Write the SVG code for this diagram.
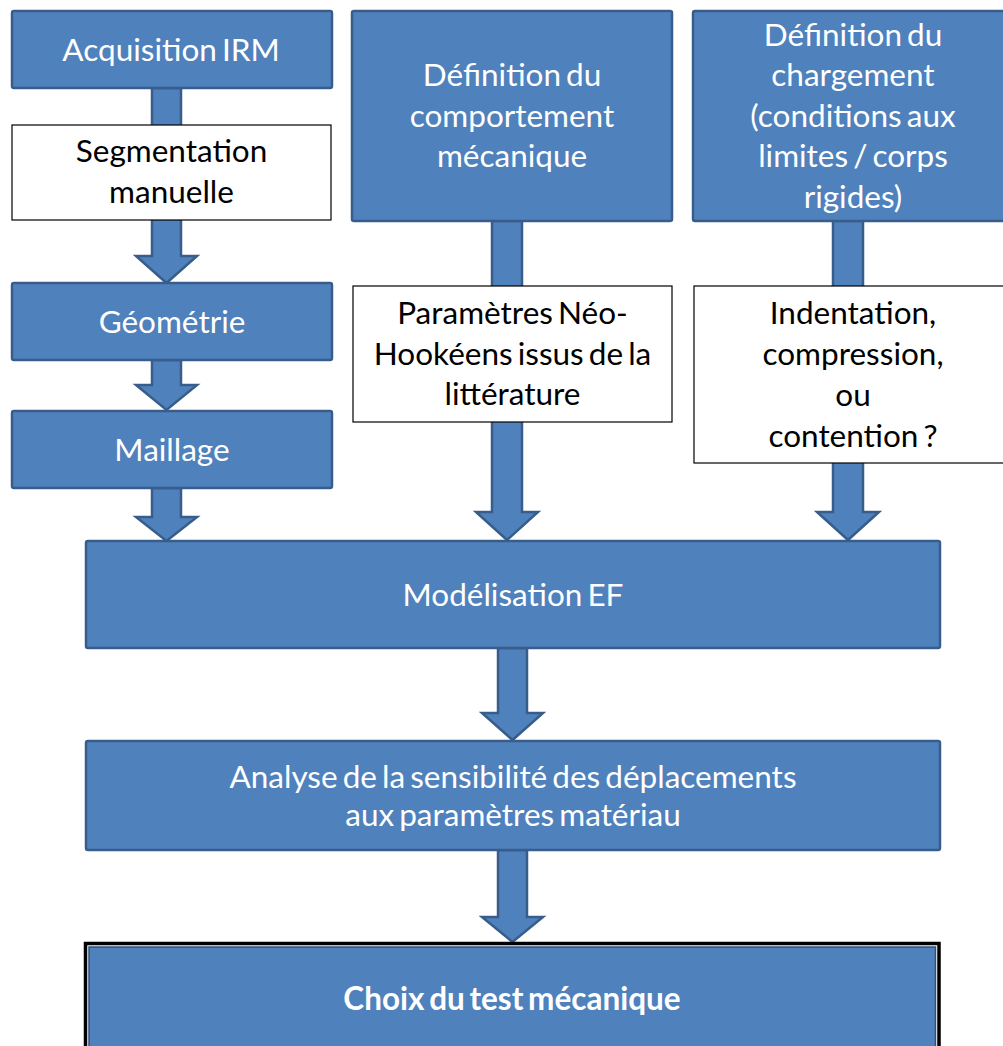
<svg xmlns="http://www.w3.org/2000/svg" width="1003" height="1046" viewBox="0 0 1003 1046">
<style>
.b{fill:#4F81BD;stroke:#385D8A;stroke-width:2.5}
.w{fill:#FFFFFF;stroke:#000000;stroke-width:1.2}
.a{fill:#4F81BD;stroke:#385D8A;stroke-width:2.5;stroke-linejoin:miter}
text{font-family:Lato,"Open Sans","Liberation Sans",sans-serif;font-size:31.5px;text-anchor:middle;word-spacing:-3px}
.tw{fill:#FFFFFF}
.tb{fill:#000000}
.bold{font-weight:bold}
</style>
<rect width="1003" height="1046" fill="#FFFFFF"/>
<g id="connectors">
<path class="a" d="M152,88 L181,88 L181,256 L197,256 L166.5,283 L136,256 L152,256 Z"/>
<path class="a" d="M152,360 L181,360 L181,385 L197,385 L166.5,410 L136,385 L152,385 Z"/>
<path class="a" d="M152,488 L181,488 L181,517 L197,517 L166.5,541 L136,517 L152,517 Z"/>
<path class="a" d="M492,221 L522,221 L522,512 L538,512 L507,540 L476,512 L492,512 Z"/>
<path class="a" d="M833,221 L863,221 L863,512 L879,512 L848,540 L817,512 L833,512 Z"/>
<path class="a" d="M498,648 L527,648 L527,713 L543,713 L512.5,740 L482,713 L498,713 Z"/>
<path class="a" d="M498,850 L527,850 L527,917 L543,917 L512.5,942 L482,917 L498,917 Z"/>
</g>
<g id="acquisition">
<rect class="b" x="12" y="11" width="320" height="77" rx="2"/>
<text class="tw" x="171" y="61">Acquisition IRM</text>
</g>
<g id="segmentation">
<rect class="w" x="12" y="125" width="319" height="95"/>
<text class="tb" x="171.5" y="162">Segmentation</text>
<text class="tb" x="171.5" y="203">manuelle</text>
</g>
<g id="geometrie">
<rect class="b" x="12" y="283" width="320" height="77" rx="2"/>
<text class="tw" x="172" y="333">Géométrie</text>
</g>
<g id="maillage">
<rect class="b" x="12" y="411" width="320" height="77" rx="2"/>
<text class="tw" x="172" y="461">Maillage</text>
</g>
<g id="comportement">
<rect class="b" x="352" y="11" width="320" height="210" rx="2"/>
<text class="tw" x="512" y="86">Définition du</text>
<text class="tw" x="512" y="127">comportement</text>
<text class="tw" x="512" y="167">mécanique</text>
</g>
<g id="parametres">
<rect class="w" x="353" y="286" width="319" height="136"/>
<text class="tb" x="512.5" y="324">Paramètres Néo-</text>
<text class="tb" x="512.5" y="365">Hookéens issus de la</text>
<text class="tb" x="512.5" y="405">littérature</text>
</g>
<g id="chargement">
<rect class="b" x="693" y="11" width="320" height="210" rx="2"/>
<text class="tw" x="853" y="46">Définition du</text>
<text class="tw" x="853" y="86">chargement</text>
<text class="tw" x="853" y="127">(conditions aux</text>
<text class="tw" x="853" y="167">limites / corps</text>
<text class="tw" x="853" y="208">rigides)</text>
</g>
<g id="indentation">
<rect class="w" x="694" y="286" width="320" height="177"/>
<text class="tb" x="853" y="324">Indentation,</text>
<text class="tb" x="853" y="365">compression,</text>
<text class="tb" x="853" y="406">ou</text>
<text class="tb" x="853" y="447">contention ?</text>
</g>
<g id="modelisation">
<rect class="b" x="86" y="541" width="854" height="107" rx="2"/>
<text class="tw" x="513" y="606">Modélisation EF</text>
</g>
<g id="analyse">
<rect class="b" x="86" y="741" width="854" height="109" rx="2"/>
<text class="tw" x="513" y="788">Analyse de la sensibilité des déplacements</text>
<text class="tw" x="513" y="826">aux paramètres matériau</text>
</g>
<g id="choix">
<rect x="85.5" y="943.5" width="853.5" height="110" fill="#FFFFFF" stroke="#000000" stroke-width="3.5"/>
<rect x="89" y="947" width="846.5" height="110" fill="#4F81BD" stroke="#2F4F75" stroke-width="1.5"/>
<text class="tw bold" x="512" y="1010">Choix du test mécanique</text>
</g>
</svg>
